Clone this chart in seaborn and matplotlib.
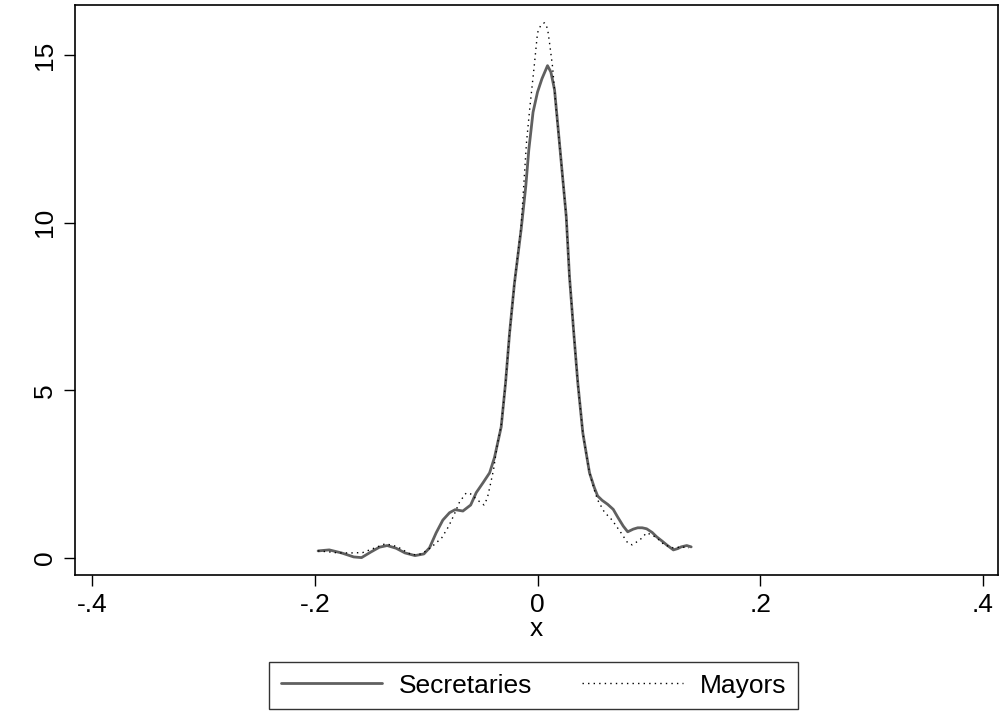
import numpy as np
import pandas as pd
import matplotlib
matplotlib.use("Agg")
import matplotlib.pyplot as plt
import seaborn as sns

sec_x = [-0.197, -0.187, -0.176, -0.165, -0.158, -0.150, -0.142, -0.135, -0.127, -0.119,
         -0.110, -0.102, -0.097, -0.091, -0.085, -0.079, -0.074, -0.067, -0.060, -0.055,
         -0.049, -0.043, -0.0386, -0.0326, -0.0287, -0.0251, -0.0207, -0.0147, -0.0105, -0.0078,
         -0.004, 0.000, 0.004, 0.009, 0.012, 0.0153, 0.0197, 0.0258, 0.0287, 0.0326,
         0.0362, 0.0407, 0.0467, 0.051, 0.054, 0.058, 0.063, 0.068, 0.072, 0.077,
         0.081, 0.086, 0.090, 0.094, 0.098, 0.103, 0.107, 0.112, 0.116, 0.122,
         0.126, 0.129, 0.134, 0.138]
sec_y = [0.21, 0.24, 0.15, 0.03, 0.01, 0.17, 0.32, 0.37, 0.29, 0.15,
         0.07, 0.12, 0.30, 0.75, 1.13, 1.35, 1.44, 1.40, 1.58, 1.95,
         2.24, 2.54, 3.0, 3.91, 5.22, 6.7, 8.2, 9.8, 11.1, 12.18,
         13.3, 13.9, 14.3, 14.69, 14.5, 13.97, 12.39, 10.19, 8.4, 6.7,
         5.22, 3.73, 2.54, 2.1, 1.85, 1.72, 1.6, 1.45, 1.22, 0.95,
         0.78, 0.86, 0.90, 0.90, 0.87, 0.76, 0.63, 0.50, 0.39, 0.24,
         0.28, 0.33, 0.37, 0.33]

may_x = [-0.197, -0.187, -0.179, -0.167, -0.157, -0.146, -0.137, -0.130, -0.124, -0.113,
         -0.104, -0.095, -0.086, -0.080, -0.075, -0.070, -0.064, -0.060, -0.054, -0.048,
         -0.045, -0.042, -0.0395, -0.036, -0.0326, -0.0287, -0.0251, -0.0207, -0.0147, -0.0099,
         -0.007, -0.003, 0.000, 0.003, 0.0063, 0.009, 0.0108, 0.0135, 0.017, 0.0197,
         0.0258, 0.0287, 0.0326, 0.0362, 0.0407, 0.0467, 0.051, 0.054, 0.060, 0.067,
         0.075, 0.081, 0.085, 0.092, 0.098, 0.103, 0.107, 0.114, 0.122, 0.129, 0.136]
may_y = [0.21, 0.18, 0.15, 0.15, 0.16, 0.30, 0.42, 0.38, 0.30, 0.09,
         0.12, 0.33, 0.60, 0.93, 1.28, 1.67, 1.94, 1.91, 1.73, 1.58,
         1.79, 2.24, 2.63, 3.4, 3.95, 5.22, 6.7, 8.2, 9.9, 12.39,
         13.4, 14.66, 15.67, 15.9, 15.97, 15.8, 15.37, 14.66, 13.3, 12.39,
         10.19, 8.4, 6.7, 5.22, 3.73, 2.54, 2.03, 1.73, 1.37, 1.13,
         0.75, 0.45, 0.39, 0.54, 0.75, 0.68, 0.60, 0.39, 0.30, 0.33, 0.30]

x_ticks = [-0.4, -0.2, 0, 0.2, 0.4]
x_tick_labels = ["-.4", "-.2", "0", ".2", ".4"]
y_ticks = [0, 5, 10, 15]
y_tick_labels = ["0", "5", "10", "15"]

sns.set_style("white")
plt.rcParams['font.family'] = ['Liberation Sans', 'DejaVu Sans']
plt.rcParams['text.color'] = 'black'
plt.rcParams['xtick.color'] = 'black'
plt.rcParams['ytick.color'] = 'black'
plt.rcParams['axes.labelcolor'] = 'black'

fig = plt.figure(figsize=(10, 7.13), dpi=100)
ax = fig.add_axes([0.075, 0.1935, 0.923, 0.7995])

sns.lineplot(x=sec_x, y=sec_y, ax=ax, color="#606060", linewidth=2.0,
             label="Secretaries", sort=False, estimator=None)
sns.lineplot(x=may_x, y=may_y, ax=ax, color="black", linewidth=1.0,
             linestyle=(0, (1, 3)), label="Mayors", sort=False, estimator=None)

ax.set_xlim(-0.4153, 0.4135)
ax.set_ylim(-0.51, 16.5)
ax.set_xticks(x_ticks)
ax.set_xticklabels(x_tick_labels)
ax.set_yticks(y_ticks)
ax.set_yticklabels(y_tick_labels, rotation=90, va="center")
ax.tick_params(axis="both", direction="out", length=8, width=1, color="black",
               labelcolor="black", labelsize=19, pad=5, bottom=True, left=True)
for s in ax.spines.values():
    s.set_visible(True)
    s.set_color("black")
    s.set_linewidth(1.2)
ax.set_xlabel("x", fontsize=19, labelpad=0, color="black")
ax.set_ylabel("")

leg = ax.legend(loc="upper center", bbox_to_anchor=(0.497, -0.152), ncol=2,
                fontsize=19, frameon=True, fancybox=False, edgecolor="black",
                handlelength=3.8, columnspacing=1.9, borderpad=0.45,
                handletextpad=0.65, borderaxespad=0)
leg.get_frame().set_linewidth(1.0)
for t in leg.get_texts():
    t.set_color("black")

fig.savefig("out.png", dpi=100)
